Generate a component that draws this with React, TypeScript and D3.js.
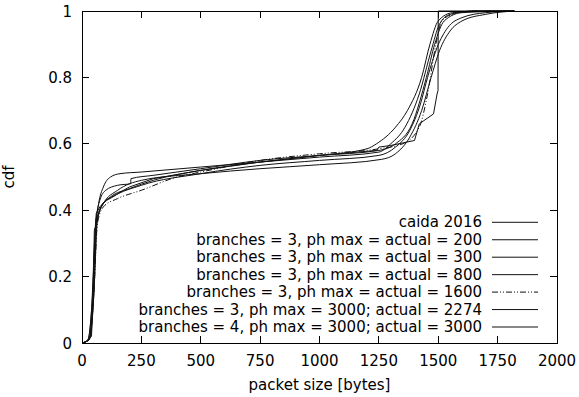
import { useEffect, useRef } from 'react';
import * as d3 from 'd3';

type Pt = [number, number];

const xTicks = [0, 250, 500, 750, 1000, 1250, 1500, 1750, 2000];
const yTicks = [0, 0.2, 0.4, 0.6, 0.8, 1];

const seriesNames = [
  'caida 2016',
  'branches = 3, ph max = actual = 200',
  'branches = 3, ph max = actual = 300',
  'branches = 3, ph max = actual = 800',
  'branches = 3, ph max = actual = 1600',
  'branches = 3, ph max = 3000; actual = 2274',
  'branches = 4, ph max = 3000; actual = 3000',
];

// packet size [bytes], cdf
const caida2016: Pt[] = [
  [0, 0], [20, 0.005], [40, 0.02], [45, 0.1], [52, 0.34], [56, 0.35], [60, 0.39],
  [75, 0.41], [100, 0.43], [150, 0.45], [200, 0.47], [300, 0.495], [500, 0.52],
  [750, 0.545], [1000, 0.565], [1240, 0.58], [1250, 0.59], [1300, 0.595],
  [1400, 0.61], [1420, 0.66], [1440, 0.67], [1480, 0.69], [1495, 0.75],
  [1499, 0.76], [1500, 1.0], [1820, 1.0],
];
const actual200: Pt[] = [
  [0, 0], [25, 0.01], [40, 0.1], [55, 0.33], [70, 0.42], [90, 0.47], [120, 0.5],
  [160, 0.51], [250, 0.515], [500, 0.53], [750, 0.545], [1000, 0.56], [1250, 0.575],
  [1300, 0.6], [1360, 0.65], [1420, 0.75], [1470, 0.88], [1505, 0.96], [1550, 0.99],
  [1650, 1], [1820, 1],
];
const actual300: Pt[] = [
  [0, 0], [25, 0.01], [45, 0.15], [58, 0.36], [75, 0.43], [100, 0.46], [150, 0.475],
  [205, 0.48], [206, 0.495], [300, 0.505], [500, 0.525], [750, 0.55], [1000, 0.565],
  [1250, 0.58], [1320, 0.6], [1390, 0.66], [1450, 0.8], [1485, 0.9], [1525, 0.97],
  [1600, 0.995], [1820, 1],
];
const actual800: Pt[] = [
  [0, 0], [30, 0.01], [45, 0.12], [60, 0.36], [80, 0.41], [120, 0.44], [200, 0.465],
  [300, 0.49], [500, 0.52], [750, 0.545], [1000, 0.565], [1200, 0.585], [1240, 0.6],
  [1320, 0.65], [1370, 0.7], [1430, 0.8], [1465, 0.9], [1500, 0.97], [1560, 0.995],
  [1700, 1], [1820, 1],
];
const actual1600: Pt[] = [
  [0, 0], [30, 0.01], [50, 0.15], [65, 0.36], [90, 0.41], [150, 0.435], [250, 0.46],
  [400, 0.5], [500, 0.515], [750, 0.55], [1000, 0.57], [1250, 0.585], [1350, 0.6],
  [1420, 0.65], [1455, 0.75], [1490, 0.9], [1515, 0.97], [1560, 0.99], [1650, 1],
  [1820, 1],
];
const actual2274: Pt[] = [
  [0, 0], [30, 0.01], [50, 0.15], [65, 0.37], [90, 0.42], [150, 0.46], [250, 0.49],
  [500, 0.51], [750, 0.525], [1000, 0.537], [1260, 0.553], [1320, 0.57], [1380, 0.62],
  [1430, 0.7], [1470, 0.8], [1505, 0.88], [1550, 0.94], [1600, 0.97], [1700, 0.99],
  [1820, 1],
];
const actual3000: Pt[] = [
  [0, 0], [30, 0.01], [48, 0.12], [62, 0.36], [85, 0.415], [130, 0.44], [250, 0.475],
  [500, 0.51], [750, 0.535], [1000, 0.55], [1250, 0.565], [1320, 0.59], [1380, 0.64],
  [1425, 0.72], [1455, 0.8], [1495, 0.89], [1540, 0.95], [1600, 0.98], [1700, 0.995],
  [1820, 1],
];

const allSeries = [caida2016, actual200, actual300, actual800, actual1600, actual2274, actual3000];
const dashes = ['', '', '', '', '6,2,1,2,1,2', '', ''];

export default function App() {
  const ref = useRef<SVGSVGElement>(null);

  useEffect(() => {
    if (!ref.current) return;
    const svg = d3.select(ref.current);
    svg.selectAll('*').remove();

    const width = 579;
    const height = 397;
    const margin = { top: 11, right: 22, bottom: 54, left: 82 };
    const font = 'DejaVu Sans, sans-serif';
    const fs = 15;

    const x = d3.scaleLinear().domain([0, 2000]).range([margin.left, width - margin.right]);
    const y = d3.scaleLinear().domain([0, 1]).range([height - margin.bottom, margin.top]);

    svg.attr('width', width).attr('height', height);
    svg.append('rect').attr('width', width).attr('height', height).attr('fill', '#fff');

    const tickLen = 7;
    const ticks = svg.append('g').attr('stroke', '#000').attr('stroke-width', 1).attr('shape-rendering', 'crispEdges');
    xTicks.forEach((t) => {
      ticks.append('line').attr('x1', x(t)).attr('x2', x(t)).attr('y1', y(0)).attr('y2', y(0) - tickLen);
      ticks.append('line').attr('x1', x(t)).attr('x2', x(t)).attr('y1', y(1)).attr('y2', y(1) + tickLen);
    });
    yTicks.forEach((t) => {
      ticks.append('line').attr('x1', x(0)).attr('x2', x(0) + tickLen).attr('y1', y(t)).attr('y2', y(t));
      ticks.append('line').attr('x1', x(2000)).attr('x2', x(2000) - tickLen).attr('y1', y(t)).attr('y2', y(t));
    });

    // Tick labels
    svg.append('g')
      .selectAll('text')
      .data(xTicks)
      .enter()
      .append('text')
      .attr('x', (d) => x(d))
      .attr('y', y(0) + 23)
      .attr('text-anchor', 'middle')
      .attr('font-family', font)
      .attr('font-size', fs)
      .attr('fill', '#000')
      .text((d) => String(d));

    svg.append('g')
      .selectAll('text')
      .data(yTicks)
      .enter()
      .append('text')
      .attr('x', x(0) - 10)
      .attr('y', (d) => y(d) + 5.5)
      .attr('text-anchor', 'end')
      .attr('font-family', font)
      .attr('font-size', fs)
      .attr('fill', '#000')
      .text((d) => String(d));

    // Axis titles
    svg.append('text')
      .attr('x', (x(0) + x(2000)) / 2)
      .attr('y', 390)
      .attr('text-anchor', 'middle')
      .attr('font-family', font)
      .attr('font-size', fs)
      .text('packet size [bytes]');

    svg.append('text')
      .attr('transform', `translate(14,${(y(0) + y(1)) / 2}) rotate(-90)`)
      .attr('text-anchor', 'middle')
      .attr('font-family', font)
      .attr('font-size', fs)
      .text('cdf');

    // Curves
    const smooth = d3.line<Pt>().x((d) => x(d[0])).y((d) => y(d[1])).curve(d3.curveMonotoneX);
    const straight = d3.line<Pt>().x((d) => x(d[0])).y((d) => y(d[1]));
    const lines = svg.append('g').attr('fill', 'none');
    allSeries.forEach((s, i) => {
      lines.append('path')
        .attr('d', i === 0 ? straight(s) : smooth(s))
        .attr('stroke', '#111')
        .attr('stroke-width', 1)
        .attr('stroke-dasharray', dashes[i] || null);
    });

    // Frame
    svg.append('rect')
      .attr('x', x(0))
      .attr('y', y(1))
      .attr('width', x(2000) - x(0))
      .attr('height', y(0) - y(1))
      .attr('fill', 'none')
      .attr('stroke', '#000')
      .attr('stroke-width', 1)
      .attr('shape-rendering', 'crispEdges');

    // Legend
    const legendRight = 482;
    const legendTop = 222.3;
    const rowH = 17.45;
    const key = svg.append('g');
    seriesNames.forEach((name, i) => {
      const cy = legendTop + i * rowH;
      key.append('text')
        .attr('x', legendRight)
        .attr('y', cy + 5)
        .attr('text-anchor', 'end')
        .attr('font-family', font)
        .attr('font-size', fs)
        .attr('fill', '#000')
        .text(name);
      key.append('line')
        .attr('x1', 492)
        .attr('x2', 538)
        .attr('y1', cy)
        .attr('y2', cy)
        .attr('stroke', '#111')
        .attr('stroke-width', 1)
        .attr('stroke-dasharray', dashes[i] || null);
    });
  }, []);

  return (
    <div style={{ position: 'fixed', left: 0, top: 0 }}>
      <svg ref={ref} style={{ display: 'block' }} />
    </div>
  );
}
